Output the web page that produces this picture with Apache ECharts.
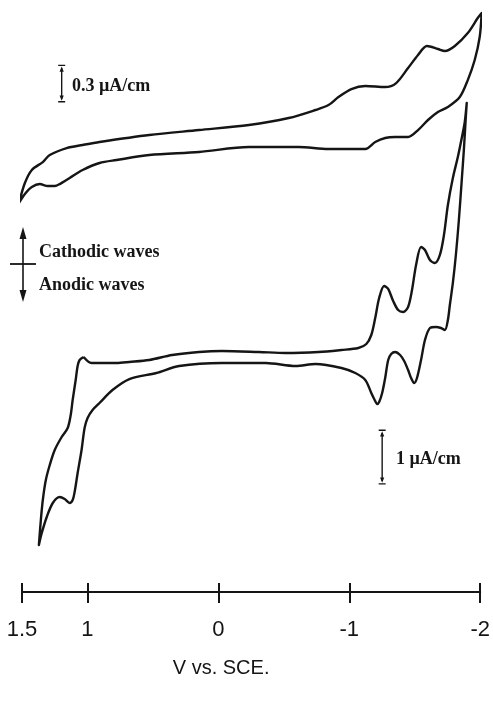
<!DOCTYPE html>
<html>
<head>
<meta charset="utf-8">
<script src="https://cdn.jsdelivr.net/npm/echarts@6/dist/echarts.min.js"></script>
<style>
  html, body { margin: 0; padding: 0; background: #ffffff; }
  #chart { width: 493px; height: 703px; }
</style>
</head>
<body>
<div id="chart"></div>
<script>
// Potential axis ticks (V vs. SCE), drawn left to right from +1.5 V to -2 V
const potentialTicks = [1.5, 1, 0, -1, -2];

// Upper voltammogram (0.3 µA/cm scale): [potential V, current µA/cm], cathodic current up
const upperCathodicScan = [
  [1.523, -0.618], [1.478, -0.424], [1.425, -0.297], [1.341, -0.220], [1.288, -0.152],
  [1.159, -0.084], [1.037, -0.054], [0.908, -0.025], [0.528, 0.043], [0.148, 0.091],
  [-0.233, 0.140], [-0.537, 0.208], [-0.742, 0.286], [-0.841, 0.334], [-0.917, 0.412],
  [-1.016, 0.490], [-1.122, 0.519], [-1.274, 0.509], [-1.358, 0.548], [-1.449, 0.694],
  [-1.525, 0.821], [-1.593, 0.908], [-1.677, 0.879], [-1.730, 0.859], [-1.806, 0.908],
  [-1.905, 1.034], [-1.981, 1.180], [-2.011, 1.229]
];
const upperAnodicScan = [
  [-1.996, 0.996], [-1.958, 0.772], [-1.905, 0.577], [-1.844, 0.412], [-1.753, 0.315],
  [-1.677, 0.266], [-1.601, 0.189], [-1.525, 0.091], [-1.449, 0.023], [-1.350, 0.023],
  [-1.274, 0.014], [-1.198, -0.025], [-1.122, -0.093], [-0.841, -0.093], [-0.613, -0.074],
  [-0.233, -0.074], [0.148, -0.122], [0.528, -0.152], [0.778, -0.200], [0.908, -0.229],
  [1.037, -0.297], [1.136, -0.375], [1.212, -0.434], [1.250, -0.453], [1.303, -0.453],
  [1.364, -0.434], [1.425, -0.463], [1.478, -0.531], [1.523, -0.618]
];

// Lower voltammogram (1 µA/cm scale): [potential V, current µA/cm], cathodic current up
const lowerCathodicScan = [
  [1.029, -0.104], [0.969, -0.229], [0.778, -0.229], [0.680, -0.208], [0.528, -0.167],
  [0.353, -0.063], [0.148, 0.000], [-0.027, 0.021], [-0.309, 0.000], [-0.514, -0.021],
  [-0.765, 0.000], [-0.940, 0.042], [-1.069, 0.083], [-1.130, 0.167], [-1.168, 0.354],
  [-1.198, 0.708], [-1.228, 1.125], [-1.266, 1.375], [-1.297, 1.313], [-1.335, 1.063],
  [-1.373, 0.875], [-1.411, 0.833], [-1.449, 0.938], [-1.479, 1.292], [-1.510, 1.813],
  [-1.548, 2.188], [-1.578, 2.125], [-1.616, 1.917], [-1.654, 1.854], [-1.692, 2.021],
  [-1.723, 2.438], [-1.753, 3.063], [-1.791, 3.625], [-1.829, 4.063], [-1.859, 4.458],
  [-1.882, 4.792], [-1.897, 5.188]
];
const lowerAnodicScan = [
  [-1.890, 4.896], [-1.875, 4.208], [-1.859, 3.583], [-1.837, 2.750], [-1.814, 2.021],
  [-1.791, 1.438], [-1.768, 0.979], [-1.753, 0.667], [-1.730, 0.458], [-1.700, 0.500],
  [-1.662, 0.521], [-1.616, 0.500], [-1.578, 0.250], [-1.548, -0.167], [-1.517, -0.542],
  [-1.495, -0.646], [-1.472, -0.542], [-1.449, -0.375], [-1.419, -0.188], [-1.388, -0.063],
  [-1.350, 0.000], [-1.320, -0.042], [-1.297, -0.167], [-1.274, -0.542], [-1.251, -0.854],
  [-1.228, -1.042], [-1.213, -1.083], [-1.190, -0.979], [-1.168, -0.854], [-1.122, -0.583],
  [-1.046, -0.438], [-0.940, -0.333], [-0.742, -0.250], [-0.590, -0.292], [-0.362, -0.229],
  [-0.027, -0.229], [0.300, -0.292], [0.474, -0.438], [0.680, -0.563], [0.809, -0.792],
  [0.908, -1.063], [0.961, -1.208], [0.999, -1.375], [1.022, -1.583], [1.045, -2.042],
  [1.075, -2.521], [1.098, -2.917], [1.113, -3.083], [1.136, -3.146], [1.174, -3.063],
  [1.212, -3.021], [1.265, -3.146], [1.311, -3.438], [1.349, -3.771], [1.371, -4.021]
];
const lowerReturnToStart = [
  [1.356, -3.500], [1.341, -3.083], [1.318, -2.667], [1.288, -2.354], [1.250, -2.042],
  [1.197, -1.771], [1.151, -1.583], [1.128, -1.313], [1.113, -1.000], [1.090, -0.583],
  [1.075, -0.292], [1.060, -0.167], [1.029, -0.104]
];

// Current scale bars: [potential V, lower end µA/cm, span µA/cm]
const upperScaleBar = [1.197, 0.393, 0.3];
const lowerScaleBar = [-1.251, -2.69, 1];

const ink = '#151515';
const serifFont = "bold 18px 'Liberation Serif', 'DejaVu Serif', serif";
const axisFont = "'Liberation Sans', Arial, sans-serif";
const capSymbol = 'path://M0,0 L10,0 L10,1.6 L0,1.6 Z M5,2 L8,8 L2,8 Z';

function scaleBarSeries(bar, yAxisIndex) {
  return {
    type: 'line',
    xAxisIndex: 0,
    yAxisIndex: yAxisIndex,
    data: [
      { value: [bar[0], bar[1] + bar[2]], symbolRotate: 0 },
      { value: [bar[0], bar[1]], symbolRotate: 180 }
    ],
    symbol: capSymbol,
    symbolSize: [7, 7],
    symbolKeepAspect: false,
    showSymbol: true,
    itemStyle: { color: ink },
    lineStyle: { color: ink, width: 1.4 },
    clip: false,
    silent: true
  };
}

function note(text, x, y) {
  return {
    type: 'text',
    style: { text: text, x: x, y: y, font: serifFont, fill: ink, align: 'left', verticalAlign: 'middle' }
  };
}

const chart = echarts.init(document.getElementById('chart'), null, { renderer: 'canvas' });

const option = {
  animation: false,
  backgroundColor: '#ffffff',
  grid: { left: 22, right: 10.5, top: 16, bottom: 111, containLabel: false },
  xAxis: [
    {
      type: 'value',
      min: -2,
      max: 1.5,
      inverse: true,
      position: 'bottom',
      name: 'V vs. SCE.',
      nameLocation: 'middle',
      nameGap: 66,
      nameTextStyle: {
        fontFamily: axisFont,
        fontSize: 20,
        color: ink,
        padding: [0, 60, 0, 0]
      },
      axisLine: { show: true, onZero: false, lineStyle: { color: ink, width: 2 } },
      axisTick: { show: true, inside: false, length: 11, customValues: potentialTicks, lineStyle: { color: ink, width: 2 } },
      axisLabel: {
        show: true,
        customValues: potentialTicks,
        margin: 27,
        fontFamily: axisFont,
        fontSize: 22,
        color: ink
      },
      splitLine: { show: false }
    },
    {
      type: 'value',
      min: -2,
      max: 1.5,
      inverse: true,
      position: 'bottom',
      axisLine: { show: false, onZero: false },
      axisTick: { show: true, inside: true, length: 9, customValues: potentialTicks, lineStyle: { color: ink, width: 2 } },
      axisLabel: { show: false },
      splitLine: { show: false }
    }
  ],
  yAxis: [
    { type: 'value', min: -4.4, max: 1.2, show: false, splitLine: { show: false } },
    { type: 'value', min: -5, max: 7, show: false, splitLine: { show: false } }
  ],
  series: [
    {
      type: 'line',
      xAxisIndex: 0,
      yAxisIndex: 0,
      data: upperCathodicScan.concat(upperAnodicScan),
      showSymbol: false,
      smooth: 0.3,
      clip: false,
      lineStyle: { color: ink, width: 2.4, join: 'round' }
    },
    {
      type: 'line',
      xAxisIndex: 0,
      yAxisIndex: 1,
      data: lowerCathodicScan.concat(lowerAnodicScan, lowerReturnToStart),
      showSymbol: false,
      smooth: 0.3,
      clip: false,
      lineStyle: { color: ink, width: 2.4, join: 'round' }
    },
    scaleBarSeries(upperScaleBar, 0),
    scaleBarSeries(lowerScaleBar, 1)
  ],
  graphic: [
    note('0.3 µA/cm', 72, 86),
    note('1 µA/cm', 396, 459),
    note('Cathodic waves', 39, 252),
    note('Anodic waves', 39, 285),
    // current-direction marker: double-headed vertical arrow with a crossbar
    { type: 'line', shape: { x1: 23, y1: 236, x2: 23, y2: 293 }, style: { stroke: ink, lineWidth: 1.6 } },
    { type: 'line', shape: { x1: 10, y1: 264, x2: 36, y2: 264 }, style: { stroke: ink, lineWidth: 1.8 } },
    { type: 'polygon', shape: { points: [[23, 227], [19.5, 239], [26.5, 239]] }, style: { fill: ink } },
    { type: 'polygon', shape: { points: [[23, 302], [19.5, 290], [26.5, 290]] }, style: { fill: ink } }
  ]
};

chart.setOption(option);
</script>
</body>
</html>
